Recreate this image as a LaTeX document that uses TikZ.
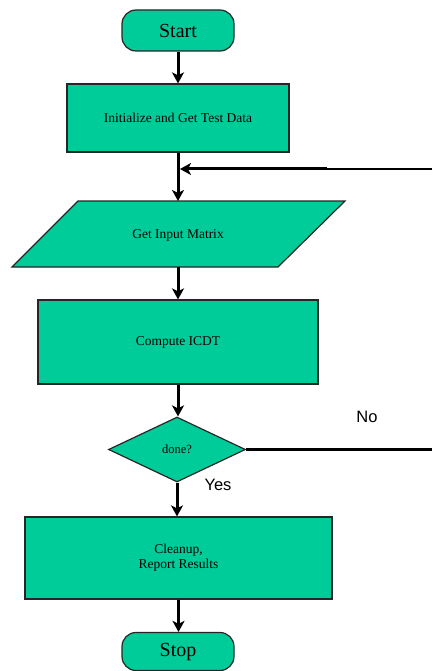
\documentclass[tikz,border=0pt]{standalone}
\usepackage{fontspec}
\setmainfont{Liberation Serif}
\newfontfamily\labelfont{Liberation Sans}
\usetikzlibrary{shapes.geometric,arrows.meta}
\definecolor{flowgreen}{RGB}{0,204,153}
\tikzset{
  box/.style={draw=black!85, line width=1.2pt, fill=flowgreen,
    font=\fontsize{13.5}{15}\selectfont, align=center, inner sep=0pt},
  terminal/.style={box, rounded corners=14pt, font=\fontsize{20}{22}\selectfont},
  decision/.style={box, diamond, font=\fontsize{12.5}{14}\selectfont},
  flow/.style={line width=3pt, -{Stealth[length=11pt,width=12pt,inset=3pt]}},
  wire/.style={line width=3.2pt},
  thinwire/.style={line width=1.6pt},
  answer/.style={font=\labelfont\fontsize{16.5}{18}\selectfont, inner sep=0pt}
}
\begin{document}
\begin{tikzpicture}[x=1pt, y=-1pt]
  \useasboundingbox (0,0) rectangle (432,671);

  % terminals and process boxes
  \node[terminal, minimum width=112, minimum height=41] (start) at (178,30.5) {Start};
  \node[box, minimum width=222, minimum height=68] (init) at (178,118) {\raisebox{-4pt}{Initialize and Get Test Data}};

  % input parallelogram
  \coordinate (inputtop) at (178,201);
  \coordinate (inputbot) at (178,267);
  \draw[draw=black!85, line width=1.2pt, fill=flowgreen]
    (78,201) -- (345,201) -- (278,267) -- (12,267) -- cycle;
  \node[font=\fontsize{13.5}{15}\selectfont] (input) at (178,235) {Get Input Matrix};

  \node[box, minimum width=280, minimum height=84] (compute) at (178,342) {Compute ICDT};
  \node[decision, minimum width=137, minimum height=65] (done) at (177,449.5) {done?};
  \node[box, minimum width=307, minimum height=82] (cleanup) at (178.5,558) {Cleanup,\\Report Results};
  \node[terminal, minimum width=112, minimum height=38] (stop) at (178,651.5) {Stop};

  % main flow
  \draw[flow] (start) -- (start.south |- init.north);
  \draw[flow] (init.south) -- (inputtop);
  \draw[flow] (inputbot) -- (inputbot |- compute.north);
  \draw[flow] (compute.south) -- (compute.south |- done.north);
  \draw[flow] (done.south) -- (done.south |- cleanup.north);
  \draw[flow] (cleanup.south) -- (cleanup.south |- stop.north);

  % loop back for the next matrix
  \coordinate (noedge) at (432,449.5);
  \coordinate (backedge) at (432,169);
  \coordinate (backmid) at (327,169);
  \coordinate (backjoin) at (180,169);
  \draw[wire] (done.east) -- (noedge);
  \draw[thinwire] (backedge) -- (backmid);
  \draw[flow] (backmid) -- (backjoin);

  % branch labels
  \node[answer] (nolabel) at (367,417) {No};
  \node[answer] (yeslabel) at (218,485) {Yes};
\end{tikzpicture}
\end{document}
